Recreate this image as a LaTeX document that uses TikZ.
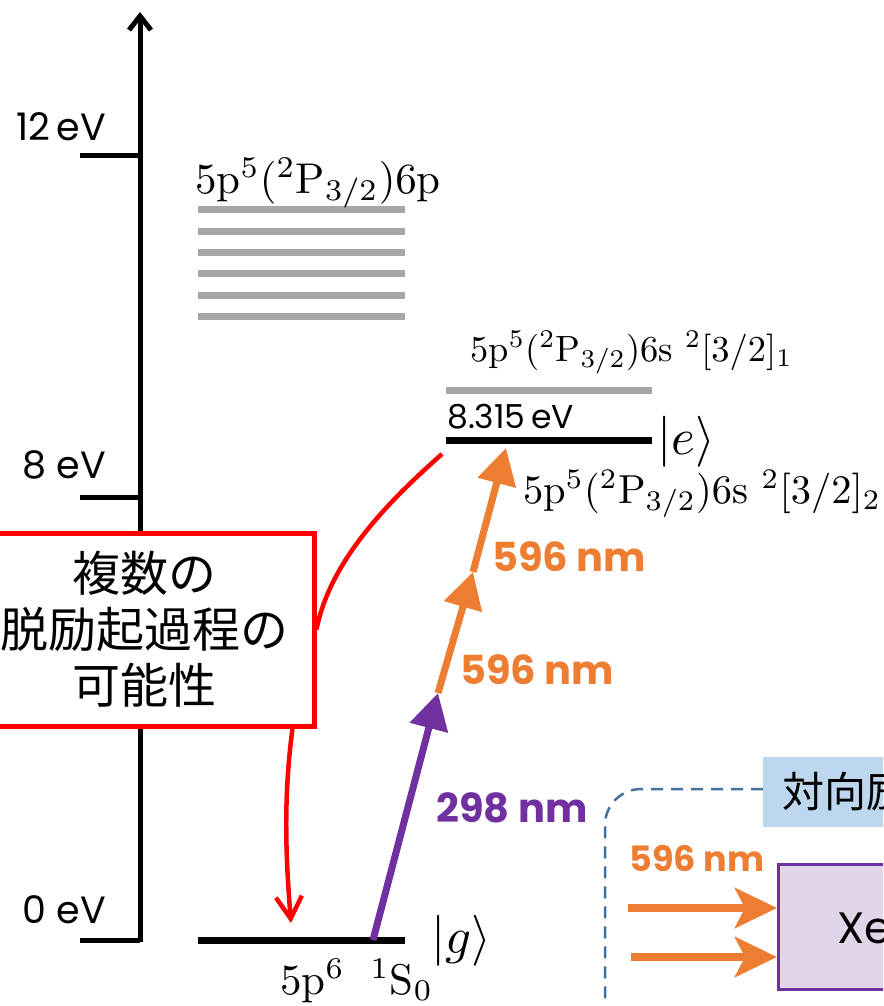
\documentclass[tikz,border=0pt]{standalone}
\usepackage{fontspec}
\setsansfont{Poppins}
\newfontfamily\jpfont{Noto Sans CJK JP}
\usetikzlibrary{arrows.meta, positioning}
\definecolor{xorange}{HTML}{ED7D31}
\definecolor{xpurple}{HTML}{7030A0}
\definecolor{xgray}{HTML}{A6A6A6}
\definecolor{xblue}{HTML}{41719C}
\definecolor{xlblue}{HTML}{BDD7EE}
\definecolor{xlpurple}{HTML}{E1D5EA}
\definecolor{xred}{HTML}{FF0000}
% state labels are set at 10pt and blown up
\newcommand{\bigmath}[2]{\scalebox{#1}{$#2$}}

\begin{document}
\begin{tikzpicture}[x=1pt, y=-1pt,
  level/.style={line width=7pt},
  greylevel/.style={xgray, line width=7pt},
  evtick/.style={line width=5pt},
  evlabel/.style={font=\sffamily\fontsize{38}{38}\selectfont, anchor=east, inner sep=0pt},
  statelabel/.style={font=\fontsize{10}{12}\selectfont, inner sep=0pt},
  nmlabel/.style={font=\sffamily\bfseries\fontsize{40}{40}\selectfont, inner sep=0pt},
  redline/.style={xred, line width=4.5pt},
  jptext/.style={font=\jpfont\fontsize{48}{56}\selectfont, align=center}]
\useasboundingbox (0,0) rectangle (883,1006);
\clip (0,0) rectangle (883,1006);
% energy axis
\coordinate (ax0) at (140,942);
\coordinate (axtop) at (140,12);
\draw[evtick, -{Straight Barb[length=14pt,width=22pt]}] (ax0) -- (axtop);
\draw[evtick] (80,155) -- (140,155);
\draw[evtick] (80,497) -- (140,497);
\draw[evtick] (80,940) -- (140,940);
\node[evlabel] (ev12) at (106,127) {12\,eV};
\node[evlabel] (ev8) at (106,465) {8 eV};
\node[evlabel] (ev0) at (106,910) {0 eV};
% 6p manifold
\foreach \y in {209,231,252,273,295,316}
  \draw[greylevel] (198,\y) -- (405,\y);
\node[statelabel, anchor=base west] (p6) at (195,193)
  {\bigmath{4.3}{5\mathrm{p}^5(^2\mathrm{P}_{3/2})6\mathrm{p}}};
% 6s levels
\draw[greylevel] (446,390) -- (652,390);
\node[statelabel, anchor=base west] (s1) at (470,361)
  {\bigmath{3.65}{5\mathrm{p}^5(^2\mathrm{P}_{3/2})6\mathrm{s}\ {}^2[3/2]_1}};
\coordinate (eL) at (446,440);
\coordinate (eR) at (652,440);
\draw[level] (eL) -- (eR);
\node[font=\sffamily\fontsize{33}{33}\selectfont, anchor=base west, inner sep=0pt] (eev) at (447,428) {8.315\,eV};
\node[statelabel, anchor=west] (ket e) at (657,442) {\bigmath{5.1}{|e\rangle}};
\node[statelabel, anchor=base west] (s2) at (523,503)
  {\bigmath{4.05}{5\mathrm{p}^5(^2\mathrm{P}_{3/2})6\mathrm{s}\ {}^2[3/2]_2}};
% ground level
\coordinate (gL) at (198,940);
\coordinate (gR) at (405,940);
\draw[level] (gL) -- (gR);
\node[statelabel, anchor=west] (ket g) at (431,941) {\bigmath{5.1}{|g\rangle}};
\node[statelabel, anchor=base west] (s0) at (280,994)
  {\bigmath{4.3}{5\mathrm{p}^6\hspace{6pt}{}^1\mathrm{S}_0}};
% excitation path
\coordinate (g0) at (373,940);
\coordinate (m1) at (438,693);
\coordinate (m2) at (473,572);
\coordinate (e0) at (506,448);
\draw[xpurple, line width=7pt, -{Triangle[length=36pt,width=38pt]}] (g0) -- (m1);
\draw[xorange, line width=7pt, -{Triangle[length=36pt,width=38pt]}] (m1) -- (m2);
\draw[xorange, line width=7pt, -{Triangle[length=36pt,width=38pt]}] (m2) -- (e0);
\node[nmlabel, text=xpurple] (nm298) at (512,808) {298 nm};
\node[nmlabel, text=xorange] (nm596a) at (537,670) {596 nm};
\node[nmlabel, text=xorange] (nm596b) at (569,557) {596 nm};
% de-excitation box
\node[draw=xred, line width=5pt, fill=white, minimum width=339pt, minimum height=193pt,
  jptext] (decay) at (144.5,629.5) {複数の\\脱励起過程の\\可能性};
\coordinate (ed) at (442,454);
\coordinate (gd) at (291,923);
\draw[redline] (decay.east) .. controls (330,560) and (390,500) .. (ed);
\draw[redline, -{Straight Barb[length=22pt,width=26pt]}]
  ([xshift=148pt]decay.south) .. controls (283,800) and (286,860) .. (gd);
% counter-propagating setup
\draw[xblue, line width=2.5pt, dash pattern=on 12pt off 8pt, rounded corners=36pt]
  (763,789) -| (605,1030);
\node[fill=xlblue, minimum width=140pt, minimum height=70pt, anchor=north west,
  inner sep=0pt] (cpbox) at (763,757) {};
\node[font=\jpfont\fontsize{42}{42}\selectfont, anchor=west, inner sep=0pt] (cptext)
  at (782,792) {対向励起};
\node[draw=xpurple, fill=xlpurple, line width=3pt, minimum width=140pt, minimum height=125pt,
  anchor=north west, inner sep=0pt] (cell) at (777,863) {};
\node[font=\sffamily\fontsize{44}{44}\selectfont, anchor=west, inner sep=0pt] (xe) at (837,928) {Xe};
\coordinate (b1) at (628,908);
\coordinate (b2) at (631,957);
\draw[xorange, line width=8pt, -{Stealth[length=42pt,width=40pt,inset=10pt]}] (b1) -- (b1 -| cell.west);
\draw[xorange, line width=8pt, -{Stealth[length=42pt,width=40pt,inset=10pt]}] (b2) -- (b2 -| cell.west);
\node[nmlabel, font=\sffamily\bfseries\fontsize{35}{35}\selectfont, text=xorange] (nm596c)
  at (697,858) {596 nm};
\end{tikzpicture}
\end{document}
